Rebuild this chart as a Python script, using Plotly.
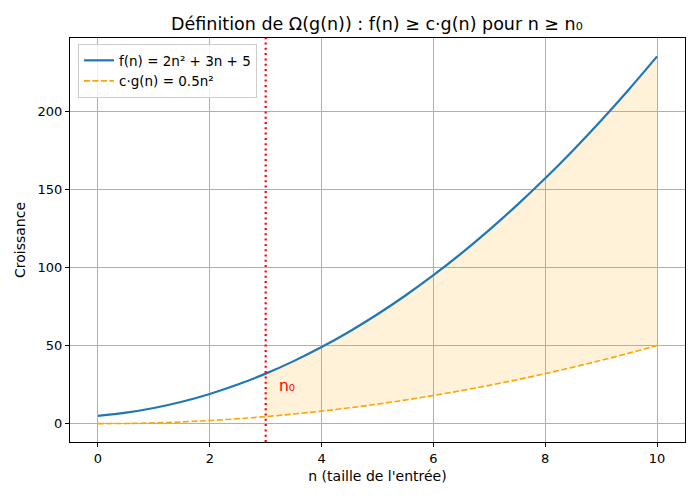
import plotly.graph_objects as go

# values, n from 0 to 10 by 0.5
n = [0, 0.5, 1, 1.5, 2, 2.5, 3, 3.5, 4, 4.5, 5, 5.5, 6, 6.5, 7, 7.5, 8, 8.5, 9, 9.5, 10]
f_vals = [5, 7, 10, 14, 19, 25, 32, 40, 49, 59, 70, 82, 95, 109, 124, 140, 157, 175, 194, 214, 235]
g_vals = [0, 0.125, 0.5, 1.125, 2, 3.125, 4.5, 6.125, 8, 10.125, 12.5, 15.125, 18, 21.125,
          24.5, 28.125, 32, 36.125, 40.5, 45.125, 50]
n0 = 3
i0 = n.index(n0)

fig = go.Figure()

# shaded region between the curves for n >= n0
fig.add_trace(go.Scatter(x=n[i0:], y=g_vals[i0:], mode='lines', line=dict(width=0, shape='spline'),
                         showlegend=False, hoverinfo='skip'))
fig.add_trace(go.Scatter(x=n[i0:], y=f_vals[i0:], mode='lines', line=dict(width=0, shape='spline'),
                         fill='tonexty', fillcolor='rgba(255,165,0,0.15)',
                         showlegend=False, hoverinfo='skip'))

fig.add_trace(go.Scatter(x=n, y=f_vals, mode='lines', name='f(n) = 2n² + 3n + 5',
                         line=dict(color='#1f77b4', width=2.2, shape='spline')))
fig.add_trace(go.Scatter(x=n, y=g_vals, mode='lines', name='c·g(n) = 0.5n²',
                         line=dict(color='orange', width=1.6, dash='6px,2.5px', shape='spline')))

fig.add_vline(x=n0, line=dict(color='red', width=2.2, dash='2px,3.3px'))

fig.add_annotation(x=3.2, y=17, text='n₀', showarrow=False, xanchor='left', yanchor='bottom',
                   font=dict(color='red', size=15.5))

axis_style = dict(showline=True, linecolor='black', linewidth=1, mirror=True,
                  ticks='outside', ticklen=4, tickcolor='black', automargin=False,
                  showgrid=True, gridcolor='#b0b0b0', gridwidth=0.8, zeroline=False,
                  tickfont=dict(size=13, color='black'))

# the page body adds an 8px offset, so margins are shifted to compensate
fig.update_layout(
    width=700, height=500,
    title=dict(text='Définition de Ω(g(n)) : f(n) ≥ c·g(n) pour n ≥ n₀',
               x=0.527, xanchor='center', y=0.968, yanchor='middle',
               font=dict(size=17.5, color='black')),
    font=dict(family='DejaVu Sans', color='black'),
    plot_bgcolor='white', paper_bgcolor='white',
    margin=dict(l=62, r=23, t=30, b=66),
    xaxis=dict(title=dict(text="n (taille de l'entrée)", font=dict(size=14), standoff=6),
               range=[-0.5, 10.5], tickvals=[0, 2, 4, 6, 8, 10], **axis_style),
    yaxis=dict(title=dict(text='Croissance', font=dict(size=14), standoff=8),
               range=[-11.75, 246.75], tickvals=[0, 50, 100, 150, 200], **axis_style),
    legend=dict(x=0.013, y=0.985, xanchor='left', yanchor='top', traceorder='normal',
                bgcolor='rgba(255,255,255,0.8)', bordercolor='#cccccc', borderwidth=1,
                font=dict(size=13.5), tracegroupgap=0),
    showlegend=True,
)

fig.write_html("out.html")
